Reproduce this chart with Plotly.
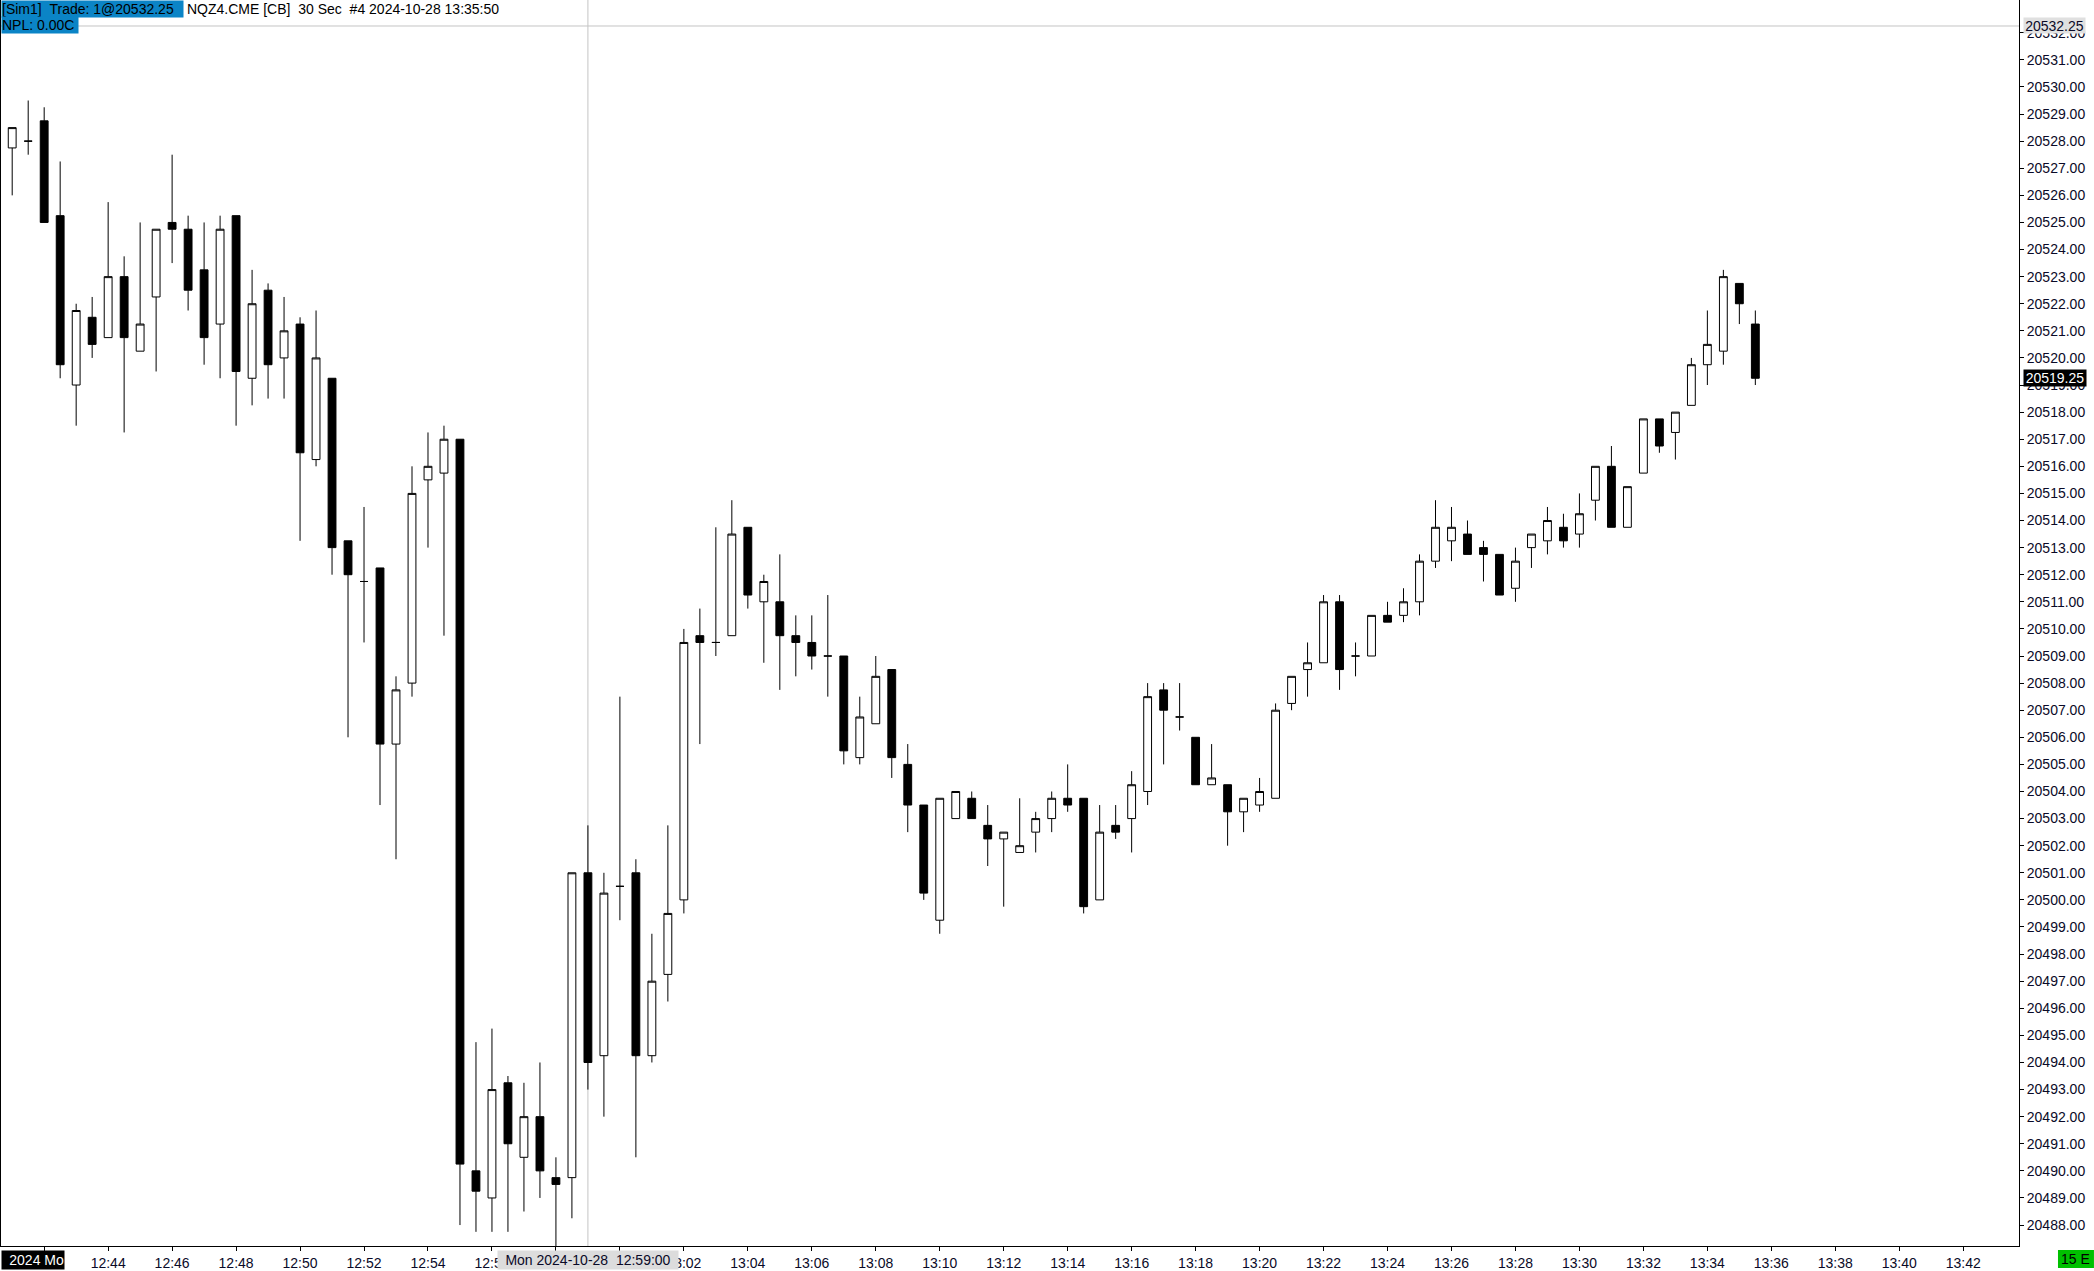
import pandas as pd
import plotly.graph_objects as go

# ---------------- data (30-second bars, NQZ4) ----------------
bar_start = "2024-10-28 12:41:00"

opens = [20527.75, 20528.0, 20528.75, 20525.25, 20519.0, 20521.5, 20520.75, 20523.0, 20520.25, 20522.25,
         20525.0, 20524.75, 20523.25, 20521.25, 20525.25, 20519.25, 20522.5, 20520.0, 20521.25, 20516.25,
         20519.25, 20513.25, 20511.75, 20512.25, 20505.75, 20508.0, 20515.5, 20515.75, 20517.0, 20490.0,
         20489.0, 20493.25, 20490.5, 20492.0, 20489.75, 20489.75, 20501.0, 20494.25, 20500.5, 20501.0,
         20494.25, 20497.25, 20500.0, 20509.75, 20509.5, 20509.75, 20513.75, 20511.0, 20511.0, 20509.75,
         20509.5, 20509.0, 20509.0, 20505.25, 20506.5, 20508.5, 20505.0, 20503.5, 20499.25, 20503.0,
         20503.75, 20502.75, 20502.25, 20501.75, 20502.5, 20503.0, 20503.75, 20503.75, 20500.0, 20502.75,
         20503.0, 20504.0, 20507.75, 20506.75, 20506.0, 20504.25, 20504.25, 20503.25, 20503.5, 20503.75,
         20507.25, 20508.5, 20508.75, 20511.0, 20509.0, 20509.0, 20510.5, 20510.5, 20511.0, 20512.5,
         20513.25, 20513.5, 20513.0, 20512.75, 20511.5, 20513.0, 20513.25, 20513.75, 20513.5, 20514.75,
         20516.0, 20513.75, 20515.75, 20517.75, 20517.25, 20518.25, 20519.75, 20520.25, 20522.75, 20521.25]

highs = [20528.5, 20529.5, 20529.25, 20527.25, 20522.0, 20522.25, 20525.75, 20523.75, 20525.0, 20524.75,
         20527.5, 20525.25, 20525.0, 20525.25, 20525.25, 20523.25, 20522.75, 20522.25, 20521.5, 20521.75,
         20519.25, 20513.25, 20514.5, 20512.25, 20508.25, 20516.0, 20517.25, 20517.5, 20517.0, 20494.75,
         20495.25, 20493.5, 20493.25, 20494.0, 20490.5, 20501.0, 20502.75, 20501.0, 20507.5, 20501.5,
         20498.75, 20502.75, 20510.0, 20510.75, 20513.75, 20514.75, 20513.75, 20512.0, 20512.75, 20510.5,
         20510.5, 20511.25, 20509.0, 20507.5, 20509.0, 20508.5, 20505.75, 20503.5, 20503.75, 20504.0,
         20504.0, 20503.5, 20502.5, 20503.75, 20503.25, 20504.0, 20505.0, 20503.75, 20503.5, 20503.5,
         20504.75, 20508.0, 20508.0, 20508.0, 20506.0, 20505.75, 20504.25, 20503.75, 20504.5, 20507.25,
         20508.25, 20509.5, 20511.25, 20511.25, 20509.5, 20510.5, 20511.0, 20511.5, 20512.75, 20514.75,
         20514.5, 20514.0, 20513.25, 20512.75, 20513.0, 20513.5, 20514.5, 20514.25, 20515.0, 20516.0,
         20516.75, 20515.25, 20517.75, 20517.75, 20518.0, 20520.0, 20521.75, 20523.25, 20522.75, 20521.75]

lows = [20526.0, 20527.5, 20525.0, 20519.25, 20517.5, 20520.0, 20520.75, 20517.25, 20520.25, 20519.5,
        20523.5, 20521.75, 20519.75, 20519.25, 20517.5, 20518.25, 20518.5, 20518.5, 20513.25, 20516.0,
        20512.0, 20506.0, 20509.5, 20503.5, 20501.5, 20507.5, 20513.0, 20509.75, 20488.0, 20487.75,
        20487.75, 20487.75, 20488.5, 20489.0, 20487.0, 20488.25, 20493.0, 20492.0, 20499.25, 20490.5,
        20494.0, 20496.25, 20499.5, 20505.75, 20509.0, 20509.75, 20510.75, 20508.75, 20507.75, 20508.25,
        20508.5, 20507.5, 20505.0, 20505.0, 20506.5, 20504.5, 20502.5, 20500.0, 20498.75, 20503.0,
        20503.0, 20501.25, 20499.75, 20501.75, 20501.75, 20502.5, 20503.25, 20499.5, 20500.0, 20502.25,
        20501.75, 20503.5, 20505.0, 20506.25, 20504.25, 20504.25, 20502.0, 20502.5, 20503.25, 20503.75,
        20507.0, 20507.5, 20508.75, 20507.75, 20508.25, 20509.0, 20510.25, 20510.25, 20510.5, 20512.25,
        20512.5, 20512.75, 20511.75, 20511.25, 20511.0, 20512.25, 20512.75, 20513.0, 20513.0, 20514.0,
        20513.75, 20513.75, 20515.75, 20516.5, 20516.25, 20518.25, 20519.0, 20519.75, 20521.25, 20519.0]

closes = [20528.5, 20528.0, 20525.0, 20519.75, 20521.75, 20520.5, 20523.0, 20520.75, 20521.25, 20524.75,
          20524.75, 20522.5, 20520.75, 20524.75, 20519.5, 20522.0, 20519.75, 20521.0, 20516.5, 20520.0,
          20513.0, 20512.0, 20511.75, 20505.75, 20507.75, 20515.0, 20516.0, 20517.0, 20490.25, 20489.25,
          20493.0, 20491.0, 20492.0, 20490.0, 20489.5, 20501.0, 20494.0, 20500.25, 20500.5, 20494.25,
          20497.0, 20499.5, 20509.5, 20509.5, 20509.5, 20513.5, 20511.25, 20511.75, 20509.75, 20509.5,
          20509.0, 20509.0, 20505.5, 20506.75, 20508.25, 20505.25, 20503.5, 20500.25, 20503.75, 20504.0,
          20503.0, 20502.25, 20502.5, 20502.0, 20503.0, 20503.75, 20503.5, 20499.75, 20502.5, 20502.5,
          20504.25, 20507.5, 20507.0, 20506.75, 20504.25, 20504.5, 20503.25, 20503.75, 20504.0, 20507.0,
          20508.25, 20508.75, 20511.0, 20508.5, 20509.0, 20510.5, 20510.25, 20511.0, 20512.5, 20513.75,
          20513.75, 20512.75, 20512.75, 20511.25, 20512.5, 20513.5, 20514.0, 20513.25, 20514.25, 20516.0,
          20513.75, 20515.25, 20517.75, 20516.75, 20518.0, 20519.75, 20520.5, 20523.0, 20522.0, 20519.25]

price_ticks = list(range(20488, 20533))
price_tick_text = [f"{v:.2f}" for v in price_ticks]

last_price = 20519.25
cross_price = 20532.25
cross_time = "2024-10-28 12:59:00"

times = pd.date_range(bar_start, periods=len(opens), freq="30s")

# ---------------- layout geometry ----------------
W, H = 2094, 1271
ML, MR, MT, MB = 0, 75, 0, 22
PW, PH = W - ML - MR, H - MT - MB

FONT = "Liberation Sans, Arial, sans-serif"
BLUE = "#0b84c6"
TXT = "#0a0a28"


def px(xpix):
    return xpix / PW


def py(ypix):
    return 1 - ypix / PH


fig = go.Figure(
    go.Candlestick(
        x=times, open=opens, high=highs, low=lows, close=closes,
        increasing=dict(fillcolor="white", line=dict(color="black", width=1)),
        decreasing=dict(fillcolor="black", line=dict(color="black", width=1)),
        whiskerwidth=0,
        hoverinfo="skip",
        showlegend=False,
    )
)

fig.update_layout(
    width=W, height=H,
    margin=dict(l=ML, r=MR, t=MT, b=MB, pad=0),
    paper_bgcolor="white", plot_bgcolor="white",
    font=dict(family=FONT, size=14, color=TXT),
    hovermode=False,
    showlegend=False,
    xaxis=dict(
        type="date",
        range=["2024-10-28 12:40:39", "2024-10-28 13:43:44.6"],
        rangeslider=dict(visible=False),
        tick0="2024-10-28 12:42:00", dtick=120000, tickformat="%H:%M",
        ticks="outside", ticklen=4, tickcolor="black", tickwidth=1,
        showline=True, linecolor="black", linewidth=1,
        showgrid=False, zeroline=False,
        tickfont=dict(family=FONT, size=14, color=TXT),
    ),
    yaxis=dict(
        side="right",
        range=[20487.227, 20533.209],
        tickmode="array", tickvals=price_ticks, ticktext=price_tick_text,
        ticks="outside", ticklen=4, tickcolor="black", tickwidth=1,
        showline=True, linecolor="black", linewidth=1, mirror=True,
        showgrid=False, zeroline=False,
        tickfont=dict(family=FONT, size=14, color=TXT),
    ),
)

# crosshair
fig.add_shape(type="line", xref="paper", yref="y", x0=0, x1=1, y0=cross_price, y1=cross_price,
              line=dict(color="#c4c4c4", width=1), layer="below")
fig.add_shape(type="line", xref="x", yref="paper", x0=cross_time, x1=cross_time, y0=0, y1=1,
              line=dict(color="#c4c4c4", width=1), layer="below")

# header texts
fig.add_annotation(text="[Sim1]\u00a0\u00a0Trade: 1@20532.25", xref="paper", yref="paper",
                   x=px(0), y=py(0), xanchor="left", yanchor="top", showarrow=False,
                   bgcolor=BLUE, width=181, height=16, borderpad=0, align="left",
                   font=dict(family=FONT, size=14, color="black"))
fig.add_annotation(text="NQZ4.CME [CB]\u00a0\u00a030 Sec\u00a0\u00a0#4 2024-10-28 13:35:50",
                   xref="paper", yref="paper", x=px(185), y=py(0), xanchor="left", yanchor="top",
                   showarrow=False, height=16, borderpad=0,
                   font=dict(family=FONT, size=14, color="black"))
fig.add_annotation(text="NPL: 0.00C", xref="paper", yref="paper",
                   x=px(0), y=py(16), xanchor="left", yanchor="top", showarrow=False,
                   bgcolor=BLUE, width=76, height=16, borderpad=0, align="left",
                   font=dict(family=FONT, size=14, color="black"))

# price markers on right axis
fig.add_annotation(text=f"{cross_price:.2f}", xref="paper", yref="y", x=1, y=cross_price,
                   xshift=4, xanchor="left", yanchor="middle", showarrow=False,
                   bgcolor="#e0e0e0", width=61, height=15, borderpad=0,
                   font=dict(family=FONT, size=14, color=TXT))
fig.add_annotation(text=f"{last_price:.2f}", xref="paper", yref="y", x=1, y=last_price,
                   xshift=4, xanchor="left", yanchor="middle", showarrow=False,
                   bgcolor="black", width=62, height=16, borderpad=0,
                   font=dict(family=FONT, size=14, color="white"))

# bottom labels
fig.add_annotation(text="2024 Mo", xref="paper", yref="paper", x=px(0), y=0, yshift=-4,
                   xanchor="left", yanchor="top", showarrow=False,
                   bgcolor="black", width=62, height=18, borderpad=0, align="right",
                   font=dict(family=FONT, size=14, color="white"))
fig.add_annotation(text="Mon 2024-10-28\u00a0\u00a012:59:00", xref="x", yref="paper", x=cross_time, y=0,
                   yshift=-4, xanchor="center", yanchor="top", showarrow=False,
                   bgcolor="#dcdcdc", width=180, height=18, borderpad=0,
                   font=dict(family=FONT, size=14, color=TXT))

# bars-remaining box (bottom right corner)
fig.add_shape(type="rect", xref="paper", yref="paper",
              x0=px(2058), x1=px(2094), y0=py(1253), y1=py(1271),
              fillcolor="#00c000", line=dict(width=0), layer="above")
fig.add_annotation(text="15 E", xref="paper", yref="paper", x=px(2091), y=py(1262),
                   xanchor="right", yanchor="middle", showarrow=False, borderpad=0,
                   font=dict(family=FONT, size=14, color="black"))

fig.write_html("out.html", config={"displayModeBar": False},
               post_script="document.body.style.margin='0';document.body.style.overflow='hidden';")
